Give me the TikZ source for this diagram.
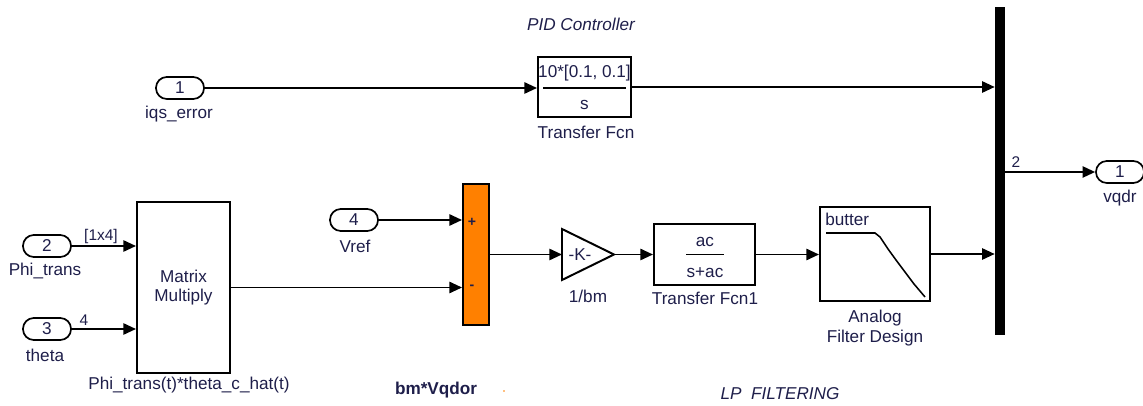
\documentclass[tikz,border=0pt]{standalone}
\usepackage{fontspec}
\setmainfont{Liberation Sans}
\usepackage{xcolor}
\usetikzlibrary{positioning, arrows.meta, calc}
\definecolor{simText}{HTML}{1E1E4A}
\definecolor{simOrange}{HTML}{FF8000}

\begin{document}
\begin{tikzpicture}[x=0.025cm, y=-0.025cm,
    every node/.style={font=\fontsize{12.2}{14}\selectfont, text=simText},
    port/.style={draw, line width=1.2pt, rounded corners=0.27cm, minimum width=1.2cm,
      minimum height=0.55cm, inner sep=0pt},
    blk/.style={draw, line width=1.4pt, inner sep=0pt},
    sig/.style={line width=1.4pt, -{Triangle[length=9pt, width=8pt]}},
    tag/.style={font=\fontsize{11}{13}\selectfont, inner sep=1pt}]
  \useasboundingbox (0,0) rectangle (1143,406);

  % top branch: PID controller
  \node[font=\fontsize{12.2}{14}\selectfont\itshape] (pidtitle) at (581,24) {PID Controller};
  \node[port] (in1) at (180,88) {1};
  \node (in1lbl) at (179,114) {iqs\_error};
  \node[blk, minimum width=2.325cm, minimum height=1.5cm] (tf) at (584.5,87) {};
  \node (tfnum) at (584.5,73) {10*[0.1, 0.1]};
  \node (tfden) at (584.5,105) {s};
  \draw[line width=1pt] (543,88) -- (626,88);
  \node (tflbl) at (586,132) {Transfer Fcn};

  % mux bar and output
  \node[fill=black, minimum width=0.25cm, minimum height=8.2cm, inner sep=0pt] (mux) at (1000,171) {};
  \node[port] (out1) at (1120,172) {1};
  \node (out1lbl) at (1120,198) {vqdr};
  \node[tag] (muxw) at (1016,162) {2};

  % inputs to the matrix multiply
  \node[port] (in2) at (47,246) {2};
  \node (in2lbl) at (45,271) {Phi\_trans};
  \node[port] (in3) at (47,329) {3};
  \node (in3lbl) at (45,355) {theta};
  \node[tag] (w2) at (101,237) {[1x4]};
  \node[tag] (w3) at (84,320) {4};
  \node[blk, minimum width=2.325cm, minimum height=4.275cm, align=center] (mm) at (183.5,287.5) {Matrix\\Multiply};
  \node (mmlbl) at (189,385) {Phi\_trans(t)*theta\_c\_hat(t)};

  % sum block
  \node[port] (in4) at (354,220) {4};
  \node (in4lbl) at (355,246) {Vref};
  \node[blk, fill=simOrange, minimum width=0.65cm, minimum height=3.525cm] (sum) at (476,254.5) {};
  \node[font=\bfseries\fontsize{10}{12}\selectfont, inner sep=0pt] (plus) at (472,222) {+};
  \node[font=\bfseries\fontsize{10}{12}\selectfont, inner sep=0pt] (minus) at (472,287) {-};
  \node[font=\bfseries\fontsize{12.2}{14}\selectfont] (sumlbl) at (436,390) {bm*Vqdor};
  \fill[simOrange] (504,391) circle (0.6pt);

  % gain
  \draw[line width=1.4pt] (562,229) -- (614,254.5) -- (562,280) -- cycle;
  \coordinate (gainin) at (562,254.5);
  \coordinate (gainout) at (614,254.5);
  \node (gaink) at (580,254.5) {-K-};
  \node (gainlbl) at (588,296) {1/bm};

  % low-pass filtering
  \node[blk, minimum width=2.525cm, minimum height=1.525cm] (tfa) at (704.5,254.5) {};
  \node (tfanum) at (705,242) {ac};
  \node (tfaden) at (705,273) {s+ac};
  \draw[line width=1pt] (686,254.5) -- (724,254.5);
  \node (tfalbl) at (705,298) {Transfer Fcn1};
  \node[blk, minimum width=2.75cm, minimum height=2.35cm] (filt) at (875,254) {};
  \node[anchor=west, inner sep=0pt] (filttype) at (825,219) {butter};
  \draw[line width=1.1pt] (826,233) -- (875,233) -- (880,237) -- (888,249) -- (896,260)
    -- (905,272) -- (914,284) -- (925,297);
  \node[align=center] (filtlbl) at (875,328) {Analog\\Filter Design};
  \node[font=\fontsize{12.2}{14}\selectfont\itshape] (lptitle) at (780,394) {LP\ \ FILTERING};

  % signal lines
  \draw[sig] (in1.east) -- (in1.east -| tf.west);
  \draw[sig] (tf.east) -- (tf.east -| mux.west);
  \draw[sig] (mux.east |- out1) -- (out1.west);
  \draw[sig] (in2.east) -- (in2.east -| mm.west);
  \draw[sig] (in3.east) -- (in3.east -| mm.west);
  \draw[sig] (in4.east) -- (in4.east -| sum.west);
  \draw[sig] (mm.east) -- (mm.east -| sum.west);
  \draw[sig] (sum.east) -- (gainin);
  \draw[sig] (gainout) -- (tfa.west);
  \draw[sig] (tfa.east) -- (tfa.east -| filt.west);
  \draw[sig] (filt.east) -- (filt.east -| mux.west);
\end{tikzpicture}
\end{document}
